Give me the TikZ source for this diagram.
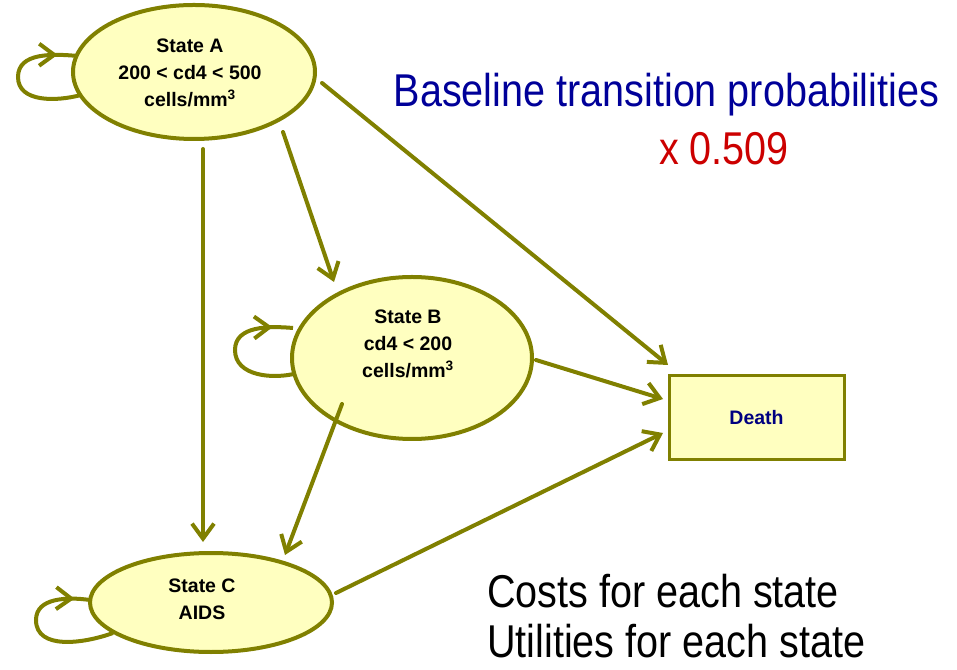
\documentclass[tikz,border=0pt]{standalone}
\usepackage{fontspec}
\setmainfont{Liberation Sans}
\newfontfamily\narrowfont[FakeStretch=0.86]{Liberation Sans}
\usetikzlibrary{arrows.meta,decorations.markings,shapes.geometric}
\pgfdeclarelayer{background}
\pgfsetlayers{background,main}
\definecolor{olivetone}{HTML}{808000}
\definecolor{cream}{HTML}{FFFFC0}
\definecolor{deepblue}{HTML}{000099}
\definecolor{deepred}{HTML}{CC0000}
\definecolor{navytext}{HTML}{000080}
\begin{document}
\begin{tikzpicture}[x=1pt,y=1pt,
  state/.style={ellipse, draw=olivetone, fill=cream, line width=4pt,
    inner sep=0pt, outer sep=0pt},
  statetext/.style={align=center, inner sep=0pt,
    font=\bfseries\fontsize{19.5}{27}\selectfont},
  sink/.style={rectangle, draw=olivetone, fill=cream, line width=3pt,
    minimum width=175pt, minimum height=84pt, inner sep=0pt, outer sep=0pt,
    text=navytext, font=\bfseries\fontsize{19.5}{23}\selectfont},
  barb/.tip={Straight Barb[length=15pt,width=22pt]},
  link/.style={draw=olivetone, line width=4pt, line cap=round, -barb},
  selfloop/.style={draw=olivetone, line width=4pt, postaction=decorate,
    decoration={markings, mark=at position #1 with {\arrow{barb}}}},
  bigtext/.style={inner sep=0pt, anchor=base,
    font=\narrowfont\fontsize{46}{50}\selectfont},
]
\useasboundingbox (0,0) rectangle (957,669);

% states and the absorbing state
\node[state, minimum width=242pt, minimum height=134pt] (A) at (194,597) {};
\node[state, minimum width=240pt, minimum height=162pt] (B) at (412,311) {};
\node[state, minimum width=242pt, minimum height=99pt] (C) at (211,66.5) {};
\node[sink] (D) at (756.5,251) {Death};

% self transitions, tucked behind the ellipses
\begin{pgfonlayer}{background}
\draw[selfloop=0.86] ([shift={(8,-23)}]A.west) to[out=195,in=270]
  ([shift={(-55,-5)}]A.west) to[out=90,in=175] ([shift={(5,16)}]A.west);
\draw[selfloop=0.86] ([shift={(6,-15)}]B.west) to[out=195,in=270]
  ([shift={(-57,8)}]B.west) to[out=90,in=175] ([shift={(1,30)}]B.west);
\draw[selfloop=0.9] ([shift={(23,-30.5)}]C.west) to[out=200,in=270]
  ([shift={(-54,-17.5)}]C.west) to[out=90,in=172] ([shift={(0,2.5)}]C.west);
\end{pgfonlayer}

% state labels
\node[statetext] (At) at (190,596) {State A\\200 < cd4 < 500\\cells/mm\textsuperscript{3}};
\node[statetext] (Bt) at (408,325) {State B\\cd4 < 200\\cells/mm\textsuperscript{3}};
\node[statetext] (Ct) at (202,69.5) {State C\\AIDS};

% transitions
\draw[link] ([shift={(9,-10)}]A.south) -- ([shift={(-8,11)}]C.north);
\draw[link] ([shift={(89,-60)}]A.center) -- ([shift={(-78,76)}]B.center);
\draw[link] ([shift={(128,-11)}]A.center) -- ([shift={(-88.5,53)}]D.center);
\draw[link] ([shift={(124,-2)}]B.center) -- ([shift={(-93.5,19)}]D.center);
\draw[link] ([shift={(125,9.5)}]C.center) -- ([shift={(-93.5,-15)}]D.center);
\draw[link] ([shift={(-70,-46)}]B.center) -- ([shift={(74,47.5)}]C.center);

% annotations
\node[bigtext, text=deepblue] (title) at (666.5,562) {Baseline transition probabilities};
\node[bigtext, text=deepred] (factor) at (724,504) {x 0.509};
\node[bigtext, anchor=base west] (costs) at (487,62) {Costs for each state};
\node[bigtext, anchor=base west] (utils) at (487,12) {Utilities for each state};
\end{tikzpicture}
\end{document}
